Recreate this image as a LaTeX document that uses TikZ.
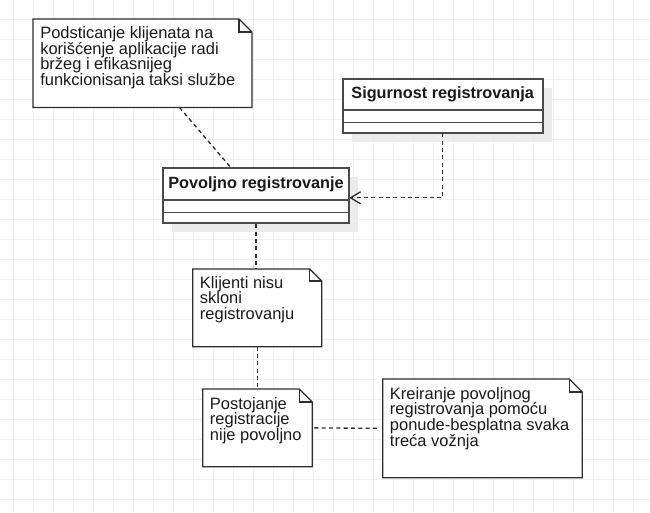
\documentclass[tikz,border=0pt]{standalone}
\usepackage{fontspec}
\setmainfont{Liberation Sans}
\usetikzlibrary{arrows.meta,calc,fit}
\definecolor{gridc}{HTML}{F0F0F0}
\definecolor{shadowc}{HTML}{EBEBEB}
\definecolor{classline}{HTML}{4A4A4A}
\definecolor{noteline}{HTML}{2E2E2E}
\definecolor{txt}{HTML}{1A1A1A}
\begin{document}
\begin{tikzpicture}[x=0.75pt,y=-0.75pt,
  frame/.style={fit={#1},inner sep=0pt,outer sep=0pt,draw=none},
  classdraw/.style={draw=classline,line width=1.5pt,fill=white},
  classsep/.style={draw=classline,line width=1.1pt},
  shadowfill/.style={fill=shadowc,draw=none},
  notedraw/.style={draw=noteline,line width=1pt,fill=white},
  notetext/.style={anchor=north west,inner sep=0pt,align=left,text=txt,font=\fontsize{12.35}{11.7}\selectfont},
  titletext/.style={inner sep=0pt,text=txt,font=\fontsize{12.2}{14}\selectfont\bfseries},
  dep/.style={draw=noteline,line width=1pt,dash pattern=on 3pt off 2.5pt}]
\useasboundingbox (0,0) rectangle (650,512);
\fill[white] (0,0) rectangle (650,512);
% grid
\foreach \gx in {13,33,...,653} {\draw[gridc,line width=0.75pt] (\gx,0) -- (\gx,512);}
\foreach \gy in {19,39,...,519} {\draw[gridc,line width=0.75pt] (0,\gy) -- (650,\gy);}

% ---------- notes ----------
\newcommand{\notefold}[2]{%
  \draw[notedraw] (#1.north west) -- ($(#1.north east)+(-#2,0)$) -- ($(#1.north east)+(0,#2)$) -- (#1.south east) -- (#1.south west) -- cycle;
  \draw[notedraw,fill=none] ($(#1.north east)+(-#2,0)$) -- ($(#1.north east)+(-#2,#2)$) -- ($(#1.north east)+(0,#2)$);}

\node[frame={(33,19) (252,107.5)}] (n1) {};
\notefold{n1}{13}
\node[notetext] (n1t) at ($(n1.north west)+(7,7.5)$) {Podsticanje klijenata na\\korišćenje aplikacije radi\\bržeg i efikasnijeg\\funkcionisanja taksi službe};

\node[frame={(192.7,269) (321.7,346.7)}] (n2) {};
\notefold{n2}{12}
\node[notetext] (n2t) at ($(n2.north west)+(7,7)$) {Klijenti nisu\\skloni\\registrovanju};

\node[frame={(202.7,389) (312.3,466.7)}] (n3) {};
\notefold{n3}{13}
\node[notetext] (n3t) at ($(n3.north west)+(7,8)$) {Postojanje\\registracije\\nije povoljno};

\node[frame={(382.7,379) (582.3,477.7)}] (n4) {};
\notefold{n4}{13}
\node[notetext] (n4t) at ($(n4.north west)+(7,8)$) {Kreiranje povoljnog\\registrovanja pomoću\\ponude-besplatna svaka\\treća vožnja};

% ---------- classes ----------
\node[frame={(342.7,79.3) (542.7,133.3)}] (sig) {};
\fill[shadowfill] ($(sig.north west)+(9,9)$) rectangle ($(sig.south east)+(9,9)$);
\draw[classdraw] (sig.north west) rectangle (sig.south east);
\draw[classsep] ($(sig.north west)+(0,30.7)$) -- ($(sig.north east)+(0,30.7)$);
\draw[classsep] ($(sig.north west)+(0,43)$) -- ($(sig.north east)+(0,43)$);
\node[titletext] (sigt) at ($(sig.north)+(0,15.5)$) {Sigurnost registrovanja};

\node[frame={(162.7,168.3) (349.3,223.3)}] (pov) {};
\fill[shadowfill] ($(pov.north west)+(9,9)$) rectangle ($(pov.south east)+(9,9)$);
\draw[classdraw] (pov.north west) rectangle (pov.south east);
\draw[classsep] ($(pov.north west)+(0,31.7)$) -- ($(pov.north east)+(0,31.7)$);
\draw[classsep] ($(pov.north west)+(0,44)$) -- ($(pov.north east)+(0,44)$);
\node[titletext] (povt) at ($(pov.north)+(0,16)$) {Povoljno registrovanje};

% ---------- connectors ----------
\coordinate (c1) at ($(n1.south west)+(146.5,0)$);
\coordinate (c2) at ($(pov.north west)+(68.8,0)$);
\draw[dep] (c1) -- (c2);

\coordinate (pe) at ($(pov.east)+(0,2)$);
\draw[dep,-{Straight Barb[length=7.5pt,width=9pt,line width=1pt]}] (sig.south) |- (pe);

\draw[dep] ($(pov.south)+(0,1)$) -- (pov.south |- n2.north);
\draw[dep] (n2.south) -- (n2.south |- n3.north);
\draw[dep] ($(n3.east)+(2,0)$) -- ($(n4.west)+(-4,0)$);
\end{tikzpicture}
\end{document}
